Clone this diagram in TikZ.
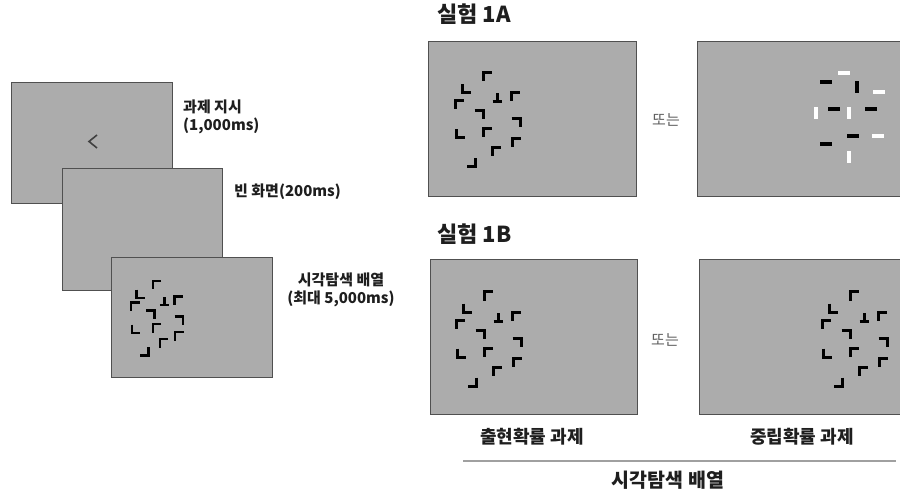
\documentclass[tikz,border=0pt]{standalone}
\usepackage{fontspec}
\setmainfont{Noto Sans CJK KR}
\definecolor{scrgray}{RGB}{172,172,172}
\definecolor{scrline}{RGB}{80,80,80}
\definecolor{ink}{RGB}{30,30,30}
\definecolor{softink}{RGB}{95,95,95}
\definecolor{rulegray}{RGB}{160,160,160}

% the twelve-item L/T search array, in box-relative pixel units
\newcommand\searcharray{%
  \pic at (59,36)  {cTL};
  \pic at (38,48)  {cBL};
  \pic at (69,57)  {tInv};
  \pic at (87,56)  {cTL};
  \pic at (31,64)  {cTL};
  \pic at (51,74)  {cTR};
  \pic at (88,82)  {cTR};
  \pic at (32,93)  {cBL};
  \pic at (59,92)  {cTL};
  \pic at (88,102) {cTL};
  \pic at (68,111) {cTL};
  \pic at (43,122) {cBR};
}

\begin{document}
\begin{tikzpicture}[x=1pt,y=-1pt,
  screen/.style={fill=scrgray, draw=scrline, line width=1.4pt, inner sep=0pt, anchor=north west},
  stim/.style={draw=black, line width=3pt},
  pics/cTL/.style={code={\draw[stim] (4.5,-4) -- (-4,-4) -- (-4,4.5);}},
  pics/cTR/.style={code={\draw[stim] (-4.5,-4) -- (4,-4) -- (4,4.5);}},
  pics/cBL/.style={code={\draw[stim] (-4,-4.5) -- (-4,4) -- (4.5,4);}},
  pics/cBR/.style={code={\draw[stim] (4,-4.5) -- (4,4) -- (-4.5,4);}},
  pics/tInv/.style={code={\draw[stim] (-4.5,4) -- (4.5,4); \draw[stim] (0,4) -- (0,-4.5);}},
  pics/hbar/.style={code={\fill[#1] (-6,-2.2) rectangle (6,2.2);}},
  pics/vbar/.style={code={\fill[#1] (-2.2,-6) rectangle (2.2,6);}},
  label/.style={text=ink, font=\fontsize{15}{18}\selectfont\bfseries, inner sep=0pt},
  title/.style={text=ink, font=\fontsize{22}{26}\selectfont\bfseries, inner sep=0pt, anchor=west},
  ortext/.style={text=softink, font=\fontsize{15}{18}\selectfont, inner sep=0pt},
  caption/.style={text=ink, font=\fontsize{18}{21}\selectfont\bfseries, inner sep=0pt},
  bigcaption/.style={text=ink, font=\fontsize{19.5}{23}\selectfont\bfseries, inner sep=0pt},
  cue/.style={draw=ink!85, line width=1.6pt, line join=miter},
  divider/.style={draw=rulegray, line width=1.3pt}]
\useasboundingbox (0,0) rectangle (900,497);
\clip (0,0) rectangle (900,497);

% ---- trial sequence (left) ----
\node[screen, minimum width=161pt, minimum height=121pt] (cueScreen) at (11,82) {};
\draw[cue] (97,135) -- (89,141.5) -- (97,148);
\node[screen, minimum width=160pt, minimum height=122pt] (blankScreen) at (62,168) {};
\node[screen, minimum width=161pt, minimum height=120pt] (searchScreen) at (111,257) {};
\begin{scope}[shift={(111,257)}, scale=0.775, stim/.style={draw=black, line width=2.4pt}]
  \searcharray
\end{scope}

\node[label, anchor=west, align=left] (cueLbl) at (183,117) {과제 지시\\(1,000ms)};
\node[label, anchor=west] (blankLbl) at (234,192) {빈 화면(200ms)};
\node[label, align=center] (searchLbl) at (341,290) {시각탐색 배열\\(최대 5,000ms)};

% ---- experiment 1A ----
\node[title] (exp1A) at (437,14) {실험 1A};
\node[screen, minimum width=208pt, minimum height=155pt] (a1) at (428,41) {};
\begin{scope}[shift={(428,41)}]
  \searcharray
\end{scope}
\node[ortext] (or1) at (666,120) {또는};
\node[screen, minimum width=208pt, minimum height=155pt] (a2) at (697,41) {};
\pic at (844,73)  {hbar=white};
\pic at (826,82)  {hbar=black};
\pic at (857,87)  {vbar=black};
\pic at (879,92)  {hbar=white};
\pic at (834,109) {hbar=black};
\pic at (816,113) {vbar=white};
\pic at (849,113) {vbar=white};
\pic at (871,109) {hbar=black};
\pic at (853,136) {hbar=black};
\pic at (878,136) {hbar=white};
\pic at (826,144) {hbar=black};
\pic at (849,157) {vbar=white};

% ---- experiment 1B ----
\node[title] (exp1B) at (437,234) {실험 1B};
\node[screen, minimum width=207pt, minimum height=155pt] (b1) at (430,259) {};
\begin{scope}[shift={(429,260)}]
  \searcharray
\end{scope}
\node[ortext] (or2) at (665,340) {또는};
\node[screen, minimum width=208pt, minimum height=155pt] (b2) at (699,259) {};
\begin{scope}[shift={(795,260)}]
  \searcharray
\end{scope}

% ---- captions ----
\node[caption] (capLeft) at (532,437) {출현확률 과제};
\node[caption] (capRight) at (802,437) {중립확률 과제};
\coordinate (ruleL) at (463,461);
\coordinate (ruleR) at (896,461);
\draw[divider] (ruleL) -- (ruleR);
\node[bigcaption] (capBottom) at (668,480) {시각탐색 배열};
\end{tikzpicture}
\end{document}
